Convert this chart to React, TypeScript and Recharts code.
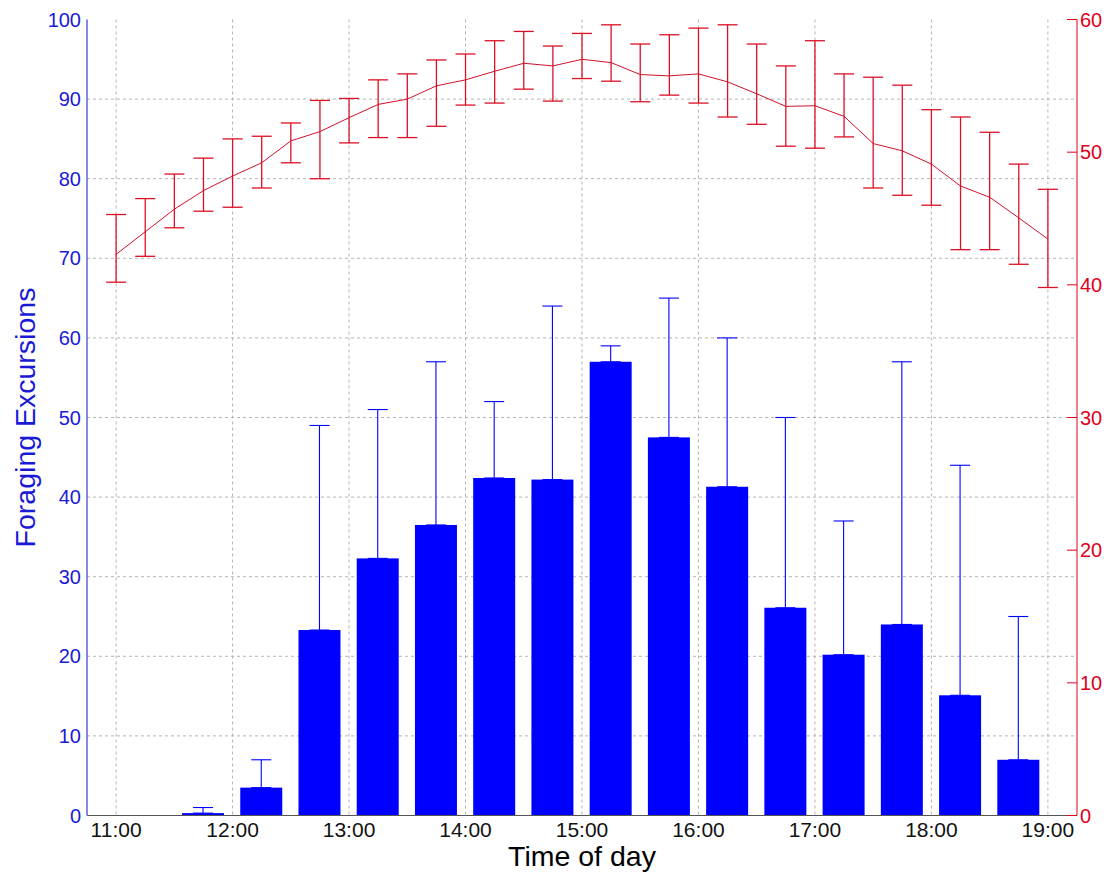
import React from "react";
import {
  ComposedChart,
  Bar,
  Line,
  XAxis,
  YAxis,
  CartesianGrid,
  ErrorBar,
} from "recharts";

// 15-minute sample times for the red series
const lineTimes = [
  "11:00", "11:15", "11:30", "11:45", "12:00", "12:15", "12:30", "12:45",
  "13:00", "13:15", "13:30", "13:45", "14:00", "14:15", "14:30", "14:45",
  "15:00", "15:15", "15:30", "15:45", "16:00", "16:15", "16:30", "16:45",
  "17:00", "17:15", "17:30", "17:45", "18:00", "18:15", "18:30", "18:45",
  "19:00",
];
const lineMean = [
  42.3, 44.0, 45.7, 47.1, 48.2, 49.2, 50.85, 51.55, 52.6, 53.6, 54.0, 55.0,
  55.45, 56.1, 56.7, 56.5, 57.0, 56.75, 55.85, 55.75, 55.9, 55.3, 54.4, 53.45,
  53.5, 52.7, 50.65, 50.1, 49.1, 47.45, 46.6, 45.05, 43.45,
];
const lineUpper = [
  45.3, 46.5, 48.35, 49.55, 51.0, 51.2, 52.2, 53.9, 54.05, 55.45, 55.9, 56.95,
  57.4, 58.4, 59.1, 58.0, 58.95, 59.6, 58.15, 58.85, 59.35, 59.6, 58.15, 56.5,
  58.4, 55.9, 55.65, 55.05, 53.2, 52.65, 51.5, 49.1, 47.2,
];
const lineLower = [
  40.2, 42.15, 44.3, 45.55, 45.85, 47.3, 49.2, 48.0, 50.7, 51.1, 51.1, 51.95,
  53.55, 53.7, 54.75, 53.85, 55.55, 55.35, 53.8, 54.3, 53.7, 52.65, 52.1, 50.45,
  50.3, 51.15, 47.3, 46.75, 46.0, 42.65, 42.65, 41.55, 39.8,
];

// half-hour bins for the blue bars
const barTimes = [
  "11:15", "11:45", "12:15", "12:45", "13:15", "13:45", "14:15", "14:45",
  "15:15", "15:45", "16:15", "16:45", "17:15", "17:45", "18:15", "18:45",
];
const barValues = [
  0, 0.3, 3.5, 23.3, 32.3, 36.5, 42.4, 42.2, 57, 47.5, 41.3, 26.1, 20.2, 24,
  15.1, 7,
];
const barUpper = [
  null, 1, 7, 49, 51, 57, 52, 64, 59, 65, 60, 50, 37, 57, 44, 25,
];

const xTicks = [11, 12, 13, 14, 15, 16, 17, 18, 19];
const leftTicks = [0, 10, 20, 30, 40, 50, 60, 70, 80, 90, 100];
const rightTicks = [0, 10, 20, 30, 40, 50, 60];

const toHours = (s: string) => {
  const [h, m] = s.split(":").map(Number);
  return h + m / 60;
};

const data = lineTimes.map((t, i) => {
  const x = toHours(t);
  const bi = barTimes.findIndex((b) => toHours(b) === x);
  const row: any = {
    t: x,
    temp: lineMean[i],
    tempErr: [lineMean[i] - lineLower[i], lineUpper[i] - lineMean[i]],
  };
  if (bi >= 0) {
    row.bar = barValues[bi];
    if (barUpper[bi] != null) row.barErr = [0, (barUpper[bi] as number) - barValues[bi]];
  }
  return row;
});
barTimes.forEach((b, bi) => {
  const x = toHours(b);
  if (!data.some((r) => r.t === x)) {
    const row: any = { t: x, bar: barValues[bi] };
    if (barUpper[bi] != null) row.barErr = [0, (barUpper[bi] as number) - barValues[bi]];
    data.push(row);
  }
});
data.sort((a, b) => a.t - b.t);

const FONT = "'Liberation Sans', Arial, sans-serif";
const BLUE = "#0000ff";
const BLUE_TXT = "#1a1ad6";
const RED = "#e0001c";
const BAR_WIDTH = 42;

const WideBar = (props: any) => {
  const { x, y, width, height } = props;
  if (height == null || height <= 0) return null;
  const cx = x + width / 2;
  return (
    <rect
      x={cx - BAR_WIDTH / 2}
      y={y}
      width={BAR_WIDTH}
      height={height}
      fill={BLUE}
    />
  );
};

const RightTick = (props: any) => {
  const { x, y, payload } = props;
  return (
    <g>
      <line x1={x - 13} x2={x - 3} y1={y} y2={y} stroke={RED} strokeWidth={1} />
      <text
        x={x}
        y={y}
        dy="0.355em"
        textAnchor="start"
        fill={RED}
        fontSize={20}
        fontFamily={FONT}
      >
        {payload.value}
      </text>
    </g>
  );
};

const YLabel = (props: any) => {
  const vb = props.viewBox || {};
  const cy = vb.y + vb.height / 2;
  const cx = 17;
  return (
    <text
      x={cx}
      y={cy}
      transform={`rotate(-90, ${cx}, ${cy})`}
      textAnchor="middle"
      dominantBaseline="central"
      fill={BLUE_TXT}
      fontSize={28.5}
      fontFamily={FONT}
    >
      Foraging Excursions
    </text>
  );
};

export default function App() {
  return (
    <div style={{ width: 1102, height: 868, fontFamily: FONT }}>
      <ComposedChart
        width={1102}
        height={868}
        data={data}
        margin={{ top: 11.5, right: 0, bottom: 0, left: 0 }}
      >
        <CartesianGrid
          yAxisId="left"
          stroke="#b4b4b4"
          strokeDasharray="3 3"
          horizontalValues={[10, 20, 30, 40, 50, 60, 70, 80, 90]}
          verticalValues={xTicks}
        />
        <XAxis
          dataKey="t"
          type="number"
          domain={[10.75, 19.25]}
          ticks={xTicks}
          allowDataOverflow
          tickFormatter={(h: number) => `${h}:00`}
          height={60.5}
          tickLine={false}
          tickSize={0}
          tickMargin={7}
          axisLine={{ stroke: "#555555", strokeWidth: 1.2 }}
          tick={{ fill: "#111111", fontSize: 21, fontFamily: FONT }}
          label={{
            value: "Time of day",
            position: "insideBottom",
            offset: 10,
            fill: "#000000",
            fontSize: 28.5,
            fontFamily: FONT,
          }}
        />
        <YAxis
          yAxisId="left"
          orientation="left"
          width={79}
          domain={[0, 100]}
          ticks={leftTicks}
          allowDataOverflow
          tickLine={false}
          tickSize={0}
          tickMargin={6}
          axisLine={{ stroke: "#6060dd", strokeWidth: 1.5 }}
          tick={{ fill: BLUE_TXT, fontSize: 20, fontFamily: FONT }}
          label={<YLabel />}
        />
        <YAxis
          yAxisId="right"
          orientation="right"
          width={33}
          domain={[0, 60]}
          ticks={rightTicks}
          allowDataOverflow
          tickLine={false}
          tickSize={0}
          tickMargin={3}
          axisLine={{ stroke: RED, strokeWidth: 1 }}
          tick={<RightTick />}
        />
        <Bar
          yAxisId="left"
          dataKey="bar"
          fill={BLUE}
          barSize={BAR_WIDTH}
          shape={<WideBar />}
          isAnimationActive={false}
        >
          <ErrorBar
            dataKey="barErr"
            direction="y"
            width={10}
            stroke={BLUE}
            strokeWidth={1.1}
            isAnimationActive={false}
          />
        </Bar>
        <Line
          yAxisId="right"
          dataKey="temp"
          stroke="#d0102a"
          strokeWidth={1}
          dot={false}
          connectNulls
          isAnimationActive={false}
        >
          <ErrorBar
            dataKey="tempErr"
            direction="y"
            width={10}
            stroke="#dc1024"
            strokeWidth={1.3}
            isAnimationActive={false}
          />
        </Line>
      </ComposedChart>
    </div>
  );
}
